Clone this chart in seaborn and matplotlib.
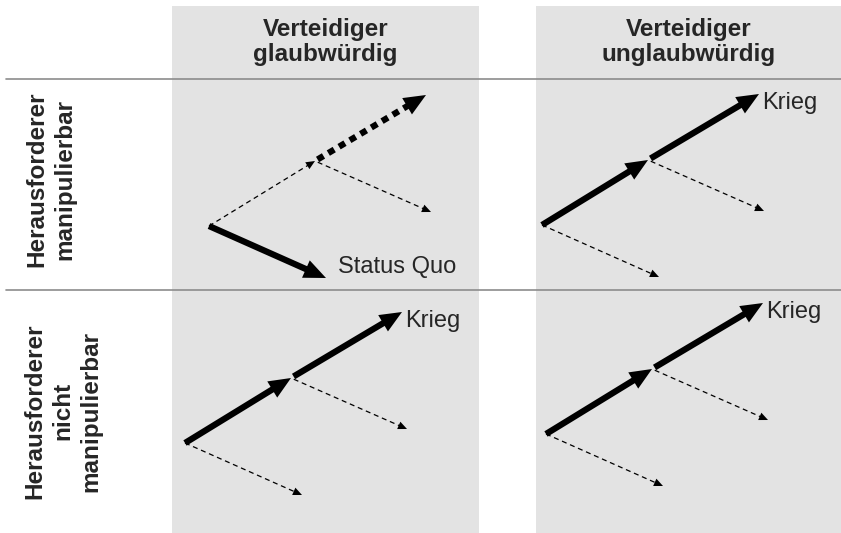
import numpy as np
import matplotlib
matplotlib.use("Agg")
import matplotlib.pyplot as plt
from matplotlib.patches import Rectangle
import seaborn as sns

# game tree, node offsets from the root (pixels of the original drawing)
node_names = ["root", "mid", "war", "mid_back", "root_back"]
node_dx = [0, 106, 217, 222, 117]
node_dy = [0, -65, -131, -14, 52]
edges = [("root", "mid"), ("mid", "war"), ("mid", "mid_back"), ("root", "root_back")]

col_labels = ["Verteidiger\nglaubwürdig", "Verteidiger\nunglaubwürdig"]
row_labels = ["Herausforderer\nmanipulierbar", "Herausforderer\nnicht\nmanipulierbar"]

# one tree per cell: root position, edge styles and the end label
panel_root_x = [209, 542, 185, 546]
panel_root_y = [226, 225, 443, 434]
panel_styles = [
    ["dashed", "dotted", "dashed", "thick"],
    ["thick", "thick", "dashed", "dashed"],
    ["thick", "thick", "dashed", "dashed"],
    ["thick", "thick", "dashed", "dashed"],
]
panel_label = ["Status Quo", "Krieg", "Krieg", "Krieg"]
panel_label_node = ["root_back", "war", "war", "war"]

sns.set_theme(style="white")
plt.rcParams["font.family"] = ["Liberation Sans", "DejaVu Sans"]

fig = plt.figure(figsize=(8.41, 5.33), dpi=100)
ax = fig.add_axes([0, 0, 1, 1])
ax.set_xlim(0, 841)
ax.set_ylim(533, 0)
ax.axis("off")

grey = "#e3e3e3"
ax.add_patch(Rectangle((172, 6), 307, 527, color=grey, lw=0, zorder=0))
ax.add_patch(Rectangle((536, 6), 305, 527, color=grey, lw=0, zorder=0))
for yy in [79, 290]:
    ax.plot([6, 841], [yy, yy], color="#8c8c8c", lw=1.2, zorder=1)

ax.text(325.5, 42, col_labels[0], ha="center", va="center", fontsize=17.5,
        fontweight="bold", linespacing=1.12)
ax.text(688.5, 42, col_labels[1], ha="center", va="center", fontsize=17.5,
        fontweight="bold", linespacing=1.12)
ax.text(51, 179, row_labels[0], ha="center", va="center", rotation=90,
        fontsize=17.5, fontweight="bold", linespacing=1.3, multialignment="center")
ax.text(63, 411, row_labels[1], ha="center", va="center", rotation=90,
        fontsize=17.5, fontweight="bold", linespacing=1.27, multialignment="center")


def draw_arrow(p0, p1, style):
    p0 = np.array(p0, float)
    p1 = np.array(p1, float)
    u = (p1 - p0) / np.linalg.norm(p1 - p0)
    n = np.array([-u[1], u[0]])
    if style == "dashed":
        hl, hw = 9, 8
        kw = dict(lw=0.9, ls=(0, (4, 3)))
    elif style == "dotted":
        hl, hw = 22, 19
        kw = dict(lw=4.5, ls=(0, (1.1, 0.9)), dash_capstyle="butt")
    else:
        hl, hw = 22, 19
        kw = dict(lw=4.5, solid_capstyle="butt")
    base = p1 - u * hl
    shaft_end = base + u * 2
    ax.plot([p0[0], shaft_end[0]], [p0[1], shaft_end[1]], color="black", zorder=3, **kw)
    head = np.array([p1, base + n * hw / 2, base - n * hw / 2])
    ax.fill(head[:, 0], head[:, 1], color="black", lw=0, zorder=4)


for i in range(4):
    rx, ry = panel_root_x[i], panel_root_y[i]
    pos = {nm: (rx + dx, ry + dy) for nm, dx, dy in zip(node_names, node_dx, node_dy)}
    for (a, b), st in zip(edges, panel_styles[i]):
        start = np.array(pos[a], float)
        if a == "mid":
            # following moves start a little after the node
            d = np.array(pos[b], float) - start
            start = start + d / np.linalg.norm(d) * 3
        draw_arrow(start, pos[b], st)
    lx, ly = pos[panel_label_node[i]]
    if panel_label[i] == "Status Quo":
        ax.text(lx + 12, ly - 11, panel_label[i], ha="left", va="center", fontsize=17)
    else:
        ax.text(lx + 3, ly + 9, panel_label[i], ha="left", va="center", fontsize=17)

fig.savefig("out.png", dpi=100)
